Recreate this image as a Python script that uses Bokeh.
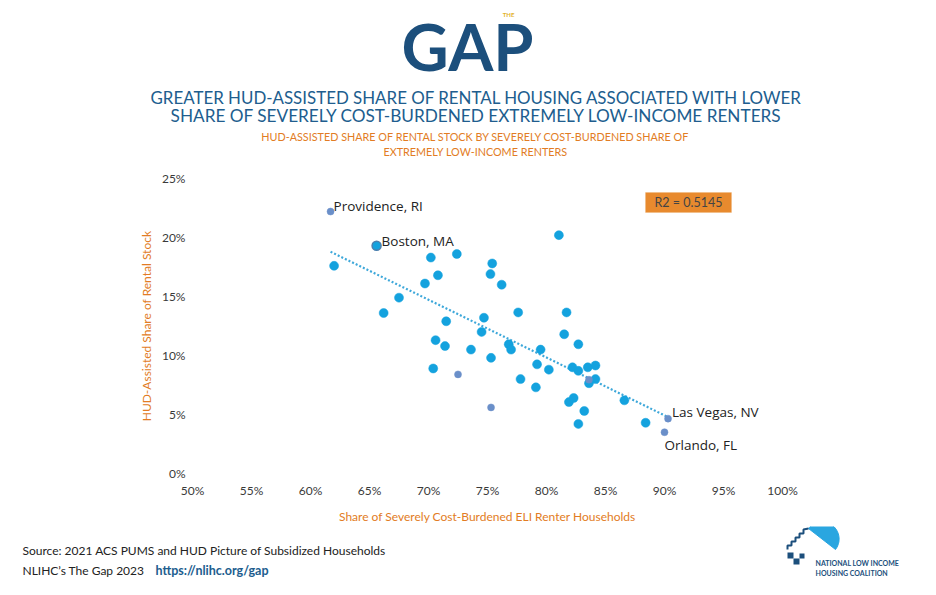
import numpy as np
from bokeh.plotting import figure
from bokeh.layouts import column
from bokeh.models import (FixedTicker, PrintfTickFormatter, Label, BoxAnnotation,
                          ColumnDataSource, CDSView, GroupFilter)
from bokeh.core.properties import value
from bokeh.embed import file_html
from bokeh.resources import INLINE

# ---------------- data ----------------
eli_burdened_pct = [61.7, 65.6, 62.0, 70.2, 72.4, 75.4, 75.25, 70.8, 69.7, 76.2,
                    67.5, 66.2, 71.5, 74.7, 74.5, 77.6, 81.7, 81.05, 81.5, 82.7,
                    70.6, 71.4, 73.6, 75.3, 76.8, 77.0, 79.5, 70.4, 72.5, 75.3,
                    79.2, 80.2, 82.2, 82.7, 83.5, 84.15, 83.6, 84.15, 83.6, 77.8,
                    79.1, 81.9, 82.3, 83.2, 82.7, 86.6, 88.4, 90.3, 90.0]
hud_assisted_pct = [22.2, 19.3, 17.6, 18.3, 18.6, 17.8, 16.9, 16.8, 16.1, 16.0,
                    14.9, 13.6, 12.9, 13.2, 12.0, 13.65, 13.65, 20.2, 11.8, 10.95,
                    11.3, 10.8, 10.5, 9.8, 10.95, 10.5, 10.5, 8.9, 8.4, 5.6,
                    9.25, 8.8, 9.0, 8.7, 9.0, 9.15, 7.95, 8.0, 7.65, 8.0,
                    7.3, 6.05, 6.4, 5.3, 4.2, 6.2, 4.3, 4.65, 3.5]
# "m" = regular metro, "h" = highlighted metro (grey-blue), "b" = outlined (Boston)
point_kind = ["h", "b", "m", "m", "m", "m", "m", "m", "m", "m",
              "m", "m", "m", "m", "m", "m", "m", "m", "m", "m",
              "m", "m", "m", "m", "m", "m", "m", "m", "h", "h",
              "m", "m", "m", "m", "m", "m", "h", "m", "m", "m",
              "m", "m", "m", "m", "m", "m", "m", "h", "h"]

labelled_metros = ["Providence, RI", "Boston, MA", "Las Vegas, NV", "Orlando, FL"]
labelled_x = [61.7, 65.6, 90.3, 90.0]
labelled_y = [22.2, 19.3, 4.65, 3.5]

x_ticks = [50, 55, 60, 65, 70, 75, 80, 85, 90, 95, 100]
y_ticks = [0, 5, 10, 15, 20, 25]
r_squared = "R2 = 0.5145"

title_lines = ["GREATER HUD-ASSISTED SHARE OF RENTAL HOUSING ASSOCIATED WITH LOWER",
               "SHARE OF SEVERELY COST-BURDENED EXTREMELY LOW-INCOME RENTERS"]
subtitle_lines = ["HUD-ASSISTED SHARE OF RENTAL STOCK BY SEVERELY COST-BURDENED SHARE OF",
                  "EXTREMELY LOW-INCOME RENTERS"]
source_line = "Source: 2021 ACS PUMS and HUD Picture of Subsidized Households"
credit_line = "NLIHC\u2019s The Gap 2023"
credit_url = "https://nlihc.org/gap"

# ---------------- styling ----------------
CYAN = "#14a2de"
GREYBLUE = "#6a8fc9"
ORANGE = "#e27c24"
NAVY = "#1c4f7c"
TITLE_BLUE = "#205d8e"
FONT = "Lato"

W = 920
HEAD_H = 160          # header strip: page y 0..160
MAIN_TOP, MAIN_BOT = 160, 526
FOOT_H = 579 - MAIN_BOT
FRAME_L, FRAME_R, FRAME_T, FRAME_B = 192, 782, 178, 474   # page pixels


def strip(height, y0):
    f = figure(width=W, height=height, x_range=(0, W), y_range=(y0 + height, y0),
               output_backend="svg", toolbar_location=None,
               x_axis_type=None, y_axis_type=None, min_border=0, frame_align=False)
    f.outline_line_color = None
    f.grid.visible = False
    return f


def txt(f, x, y, s, size, color, align="center", style="normal",
        baseline="middle", font=FONT):
    f.text(x=[x], y=[y], text=[s], text_font=value(font),
           text_font_size=value(size), text_color=color, text_align=align,
           text_font_style=style, text_baseline=baseline)


# ---------------- header ----------------
head = strip(HEAD_H, 0)
txt(head, 467, 45, "GAP", "65px", NAVY, style="bold", baseline="alphabetic")
txt(head, 508, 14, "THE", "6px", "#e2b12c", style="bold")
txt(head, 476, 97, title_lines[0], "16.9px", TITLE_BLUE)
txt(head, 476, 115, title_lines[1], "17.2px", TITLE_BLUE)
txt(head, 475, 136, subtitle_lines[0], "10.8px", ORANGE)
txt(head, 475, 151, subtitle_lines[1], "10.8px", ORANGE)

# ---------------- main scatter ----------------
p = figure(width=W, height=MAIN_BOT - MAIN_TOP, output_backend="svg",
           toolbar_location=None, x_range=(50, 100), y_range=(0, 25),
           min_border_left=FRAME_L, min_border_right=W - FRAME_R,
           min_border_top=FRAME_T - MAIN_TOP, min_border_bottom=MAIN_BOT - FRAME_B,
           frame_align=False)
p.outline_line_color = None
p.xgrid.grid_line_color = None
p.ygrid.grid_line_color = None

for ax in (p.xaxis[0], p.yaxis[0]):
    ax.axis_line_color = None
    ax.major_tick_line_color = None
    ax.minor_tick_line_color = None
    ax.major_tick_out = 0
    ax.major_tick_in = 0
    ax.major_label_text_font = FONT
    ax.major_label_text_font_size = "12px"
    ax.major_label_text_color = "#3a3a3a"
    ax.formatter = PrintfTickFormatter(format="%d%%")
    ax.axis_label_text_font = FONT
    ax.axis_label_text_font_size = "12px"
    ax.axis_label_text_font_style = "normal"
    ax.axis_label_text_color = ORANGE

p.xaxis[0].ticker = FixedTicker(ticks=x_ticks)
p.yaxis[0].ticker = FixedTicker(ticks=y_ticks)
p.xaxis[0].major_label_standoff = 9
p.yaxis[0].major_label_standoff = 7
p.xaxis[0].axis_label = "Share of Severely Cost-Burdened ELI Renter Households"
p.yaxis[0].axis_label = "HUD-Assisted Share of Rental Stock"
p.xaxis[0].axis_label_standoff = 8
p.yaxis[0].axis_label_standoff = 5

# trend line (least squares fit of the points)
xs = np.array(eli_burdened_pct)
ys = np.array(hud_assisted_pct)
slope, intercept = np.polyfit(xs, ys, 1)
tx = np.array([xs.min(), xs.max()])
p.line(tx, slope * tx + intercept, line_color="#3ea8da", line_width=2.2,
       line_dash="2 2")

src = ColumnDataSource(dict(x=eli_burdened_pct, y=hud_assisted_pct, k=point_kind))
for kind, color, size, lc, lw in [("m", CYAN, 9, CYAN, 0.5),
                                   ("b", CYAN, 9, "#4b7fae", 1.5),
                                   ("h", GREYBLUE, 7, GREYBLUE, 0.5)]:
    view = CDSView(filter=GroupFilter(column_name="k", group=kind))
    p.scatter("x", "y", source=src, view=view, size=size, fill_color=color,
              line_color=lc, line_width=lw)

offsets = {"Providence, RI": (3, 6), "Boston, MA": (5, 5),
           "Las Vegas, NV": (4, 7), "Orlando, FL": (0, -13)}
for name, lx, ly in zip(labelled_metros, labelled_x, labelled_y):
    dx, dy = offsets[name]
    p.add_layout(Label(x=lx, y=ly, text=name, x_offset=dx, y_offset=dy,
                       text_font="Open Sans", text_font_size="13.5px",
                       text_color="#222222", text_baseline="middle"))

# R2 box (frame screen units: origin at frame bottom-left)
def fr(px, py):
    return px - FRAME_L, FRAME_B - py

bl, bt = fr(645, 193)
br, bb = fr(731, 213)
p.add_layout(BoxAnnotation(left=bl, right=br, top=bt, bottom=bb,
                           left_units="screen", right_units="screen",
                           top_units="screen", bottom_units="screen",
                           fill_color="#e88a2e", fill_alpha=1.0,
                           line_color="#f0b070", line_width=1))
cx_, cy_ = fr(688, 203)
p.add_layout(Label(x=cx_, y=cy_, x_units="screen", y_units="screen", text=r_squared,
                   text_font=FONT, text_font_size="12.5px", text_color="#444444",
                   text_align="center", text_baseline="middle"))

# ---------------- footer ----------------
foot = strip(FOOT_H, MAIN_BOT)
txt(foot, 22, 550, source_line, "12px", "#222222", align="left")
txt(foot, 22, 570, credit_line, "12px", "#222222", align="left")
txt(foot, 155, 570, credit_url, "12.5px", TITLE_BLUE, align="left", style="bold")

# NLIHC house mark
ang = np.linspace(0, np.pi, 40)
c0x, c0y = 821.5, 538.5
ux, uy = (835 - 808) / 2, (549 - 528) / 2
r = np.hypot(ux, uy)
base = np.arctan2(uy, ux)
foot.patch(list(c0x + r * np.cos(base - ang)), list(c0y + r * np.sin(base - ang)),
           fill_color="#2aa6e0", line_color="#2aa6e0")
foot.line([787, 787, 791, 791, 795, 795, 799, 799, 803, 803, 808],
          [549, 545, 545, 541, 541, 537, 537, 533, 533, 529, 528],
          line_color=NAVY, line_width=2)
foot.quad(left=[787, 793, 799], right=[793, 799, 804],
          top=[552, 558, 553], bottom=[558, 564, 558], fill_color=NAVY,
          line_color=None)
txt(foot, 815, 562, "NATIONAL LOW INCOME", "7px", NAVY, align="left", style="bold")
txt(foot, 815, 572, "HOUSING COALITION", "7px", NAVY, align="left", style="bold")

layout = column(head, p, foot, spacing=0)
open("out.html", "w").write(file_html(layout, INLINE))
